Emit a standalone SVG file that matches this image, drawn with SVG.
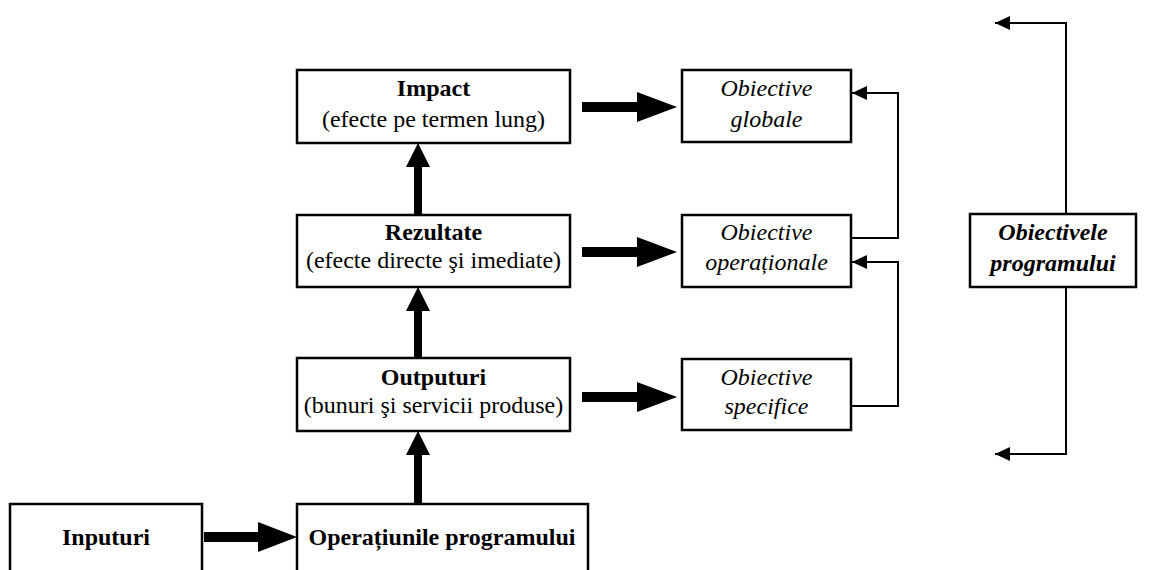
<svg xmlns="http://www.w3.org/2000/svg" width="1151" height="570" viewBox="0 0 1151 570">
<style>
.box{fill:#fff;stroke:#000;stroke-width:2.5}
text{font-family:"Liberation Serif","Times New Roman",serif;font-size:24px;fill:#000;text-anchor:middle}
.b{font-weight:bold}
.i{font-style:italic}
.bi{font-weight:bold;font-style:italic}
.thin{fill:none;stroke:#000;stroke-width:2}
.thick{fill:#000;stroke:none}
</style>
<defs>
<marker id="ah" markerWidth="16" markerHeight="14" refX="15" refY="7" orient="auto" markerUnits="userSpaceOnUse">
<path d="M0,0 L15,7 L0,14 Z" fill="#000"/>
</marker>
</defs>
<rect width="1151" height="570" fill="#fff"/>
<g id="impact"><rect class="box" x="297" y="70" width="273" height="73"/><text x="433.5" y="96" class="b">Impact</text><text x="433.5" y="127">(efecte pe termen lung)</text></g>
<g id="rezultate"><rect class="box" x="297" y="215" width="273" height="72"/><text x="433.5" y="240" class="b">Rezultate</text><text x="433.5" y="268">(efecte directe şi imediate)</text></g>
<g id="outputuri"><rect class="box" x="297" y="358" width="273" height="73"/><text x="433.5" y="385" class="b">Outputuri</text><text x="433.5" y="413">(bunuri şi servicii produse)</text></g>
<g id="inputuri"><rect class="box" x="10" y="504" width="192" height="80"/><text x="106" y="545" class="b">Inputuri</text></g>
<g id="operatiuni"><rect class="box" x="297" y="504" width="291" height="80"/><text x="442" y="545" class="b">Operațiunile programului</text></g>
<g id="globale"><rect class="box" x="682" y="70" width="169" height="72"/><text x="766.5" y="96" class="i">Obiective</text><text x="766.5" y="127" class="i">globale</text></g>
<g id="operationale"><rect class="box" x="682" y="215" width="169" height="72"/><text x="766.5" y="240" class="i">Obiective</text><text x="766.5" y="270" class="i">operaționale</text></g>
<g id="specifice"><rect class="box" x="682" y="359" width="169" height="71"/><text x="766.5" y="385" class="i">Obiective</text><text x="766.5" y="414" class="i">specifice</text></g>
<g id="obiectivele"><rect class="box" x="970" y="214" width="166" height="73"/><text x="1053" y="240" class="bi">Obiectivele</text><text x="1053" y="271" class="bi">programului</text></g>
<g id="connectors">
<path class="thick" d="M582,102 L637,102 L637,92 L677,107 L637,122 L637,112 L582,112 Z"/>
<path class="thick" d="M582,247 L637,247 L637,237 L677,252 L637,267 L637,257 L582,257 Z"/>
<path class="thick" d="M582,392 L637,392 L637,382 L677,397 L637,412 L637,402 L582,402 Z"/>
<path class="thick" d="M204,532 L258,532 L258,522 L297,537 L258,552 L258,542 L204,542 Z"/>
<path class="thick" d="M414,215 L414,167 L406,167 L418,143 L430,167 L422,167 L422,215 Z"/>
<path class="thick" d="M414,358 L414,311 L406,311 L418,287 L430,311 L422,311 L422,358 Z"/>
<path class="thick" d="M414,504 L414,455 L406,455 L418,431 L430,455 L422,455 L422,504 Z"/>
<path class="thin" d="M851,238 L898,238 L898,93 L852,93" marker-end="url(#ah)"/>
<path class="thin" d="M851,406 L898,406 L898,262 L852,262" marker-end="url(#ah)"/>
<path class="thin" d="M1066,214 L1066,23 L995,23" marker-end="url(#ah)"/>
<path class="thin" d="M1066,287 L1066,454 L995,454" marker-end="url(#ah)"/>
</g>
</svg>
